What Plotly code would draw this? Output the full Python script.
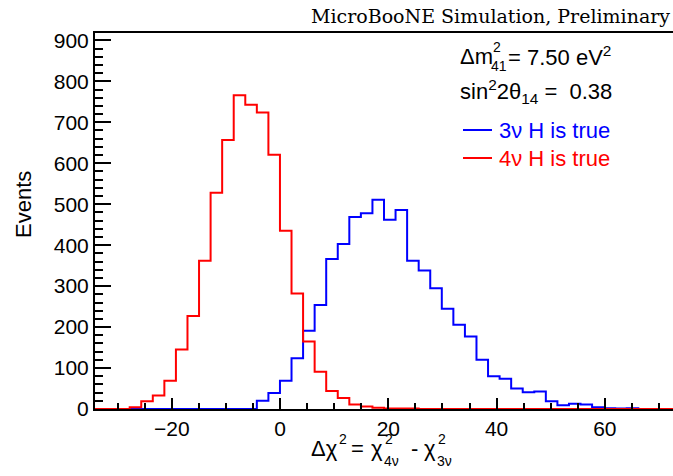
import plotly.graph_objects as go

# ---------------- data ----------------
x_min = -34.2
bin_width = 2.136
n_bins = 50

counts_3nu = [0, 0, 0, 0, 0, 0, 0, 0, 0, 0,
              0, 0, 0, 0, 20, 39, 69, 124, 191, 254,
              366, 403, 469, 478, 511, 462, 486, 362, 338, 295,
              245, 206, 177, 120, 80, 74, 50, 41, 43, 19,
              9, 13, 11, 4, 2, 1, 2, 0, 0, 0]
counts_4nu = [0, 0, 0, 4, 19, 33, 69, 145, 227, 362,
              528, 657, 766, 743, 724, 621, 435, 282, 165, 91,
              44, 27, 11, 6, 3, 1, 1, 1, 0, 0,
              0, 0, 0, 0, 0, 0, 0, 0, 0, 0,
              0, 0, 0, 0, 0, 0, 0, 0, 0, 0]

y_tick_vals = [0, 100, 200, 300, 400, 500, 600, 700, 800, 900]
x_tick_vals = [-20, 0, 20, 40, 60]
x_tick_text = ["\u221220", "0", "20", "40", "60"]
y_max = 918

# ---------------- geometry ----------------
W, H = 673, 476
L, R, T, B = 95, 0, 33, 67
PW, PH = W - L - R, H - T - B


def px(xp):
    return (xp - L) / PW


def py(yp):
    return (H - B - yp) / PH


edges = [x_min + bin_width * k for k in range(n_bins + 1)]


def step(vals):
    return edges, list(vals) + [vals[-1]]


SANS = "Liberation Sans"
fig = go.Figure()
xb, yb = step(counts_3nu)
fig.add_trace(go.Scatter(x=xb, y=yb, mode="lines", line=dict(color="#0000ff", width=2, shape="hv"),
                         showlegend=False, hoverinfo="skip"))
xr, yr = step(counts_4nu)
fig.add_trace(go.Scatter(x=xr, y=yr, mode="lines", line=dict(color="#ff0000", width=2, shape="hv"),
                         showlegend=False, hoverinfo="skip"))

fig.update_layout(
    width=W, height=H,
    margin=dict(l=L, r=R, t=T, b=B, pad=0),
    paper_bgcolor="white", plot_bgcolor="white",
    font=dict(family=SANS, size=21, color="black"),
    showlegend=False,
    xaxis=dict(range=[x_min, edges[-1]], showgrid=False, zeroline=False,
               showline=True, linecolor="black", linewidth=2, mirror=True,
               ticks="inside", ticklen=11, tickwidth=1.5, tickcolor="black",
               tickmode="array", tickvals=x_tick_vals, ticktext=x_tick_text,
               tickfont=dict(family=SANS, size=21),
               minor=dict(dtick=5, tick0=0, ticks="inside", ticklen=6, tickwidth=1.5, tickcolor="black")),
    yaxis=dict(range=[0, y_max], showgrid=False, zeroline=False,
               showline=True, linecolor="black", linewidth=2, mirror=False,
               ticks="inside", ticklen=16, tickwidth=1.5, tickcolor="black",
               tickmode="array", tickvals=y_tick_vals,
               tickfont=dict(family=SANS, size=21),
               minor=dict(dtick=20, tick0=0, ticks="inside", ticklen=8, tickwidth=1.5, tickcolor="black")),
)

ann = []


def add(text, xp, yp, size=22, color="black", family=SANS, xanchor="left", yanchor="middle", angle=0):
    ann.append(dict(text=text, x=px(xp), y=py(yp), xref="paper", yref="paper",
                    xanchor=xanchor, yanchor=yanchor, showarrow=False, textangle=angle,
                    borderpad=0,
                    font=dict(family=family, size=size, color=color)))


# header
add("MicroBooNE Simulation, Preliminary", 671, 16, size=19, family="DejaVu Serif", xanchor="right")

# parameter text
add("\u0394m", 459, 56)
add("2", 492, 47, size=14)
add("41", 490, 66, size=14)
add("= 7.50 eV<sup>2</sup>", 507, 56)
add("sin<sup>2</sup>2\u03b8<sub>14</sub> =  0.38", 459, 91)

# legend
legend_items = [("#0000ff", 130, "3\u03bd H is true"), ("#ff0000", 158, "4\u03bd H is true")]
for col, yl, txt in legend_items:
    fig.add_shape(type="line", xref="paper", yref="paper", x0=px(463), x1=px(492), y0=py(yl), y1=py(yl),
                  line=dict(color=col, width=2))
    add(txt, 498, yl, color=col)

# y title
add("Events", 23, 205, xanchor="center", angle=-90)

# x title
add("\u0394\u03c7", 310, 448)
add("2", 338, 439, size=14)
add("=", 350, 448)
add("\u03c7", 370, 448)
add("2", 384, 439, size=14)
add("4\u03bd", 383, 461, size=14)
add("-", 410, 448)
add("\u03c7", 423, 448)
add("2", 437, 439, size=14)
add("3\u03bd", 436, 461, size=14)

fig.update_layout(annotations=ann)
fig.write_html("out.html")
